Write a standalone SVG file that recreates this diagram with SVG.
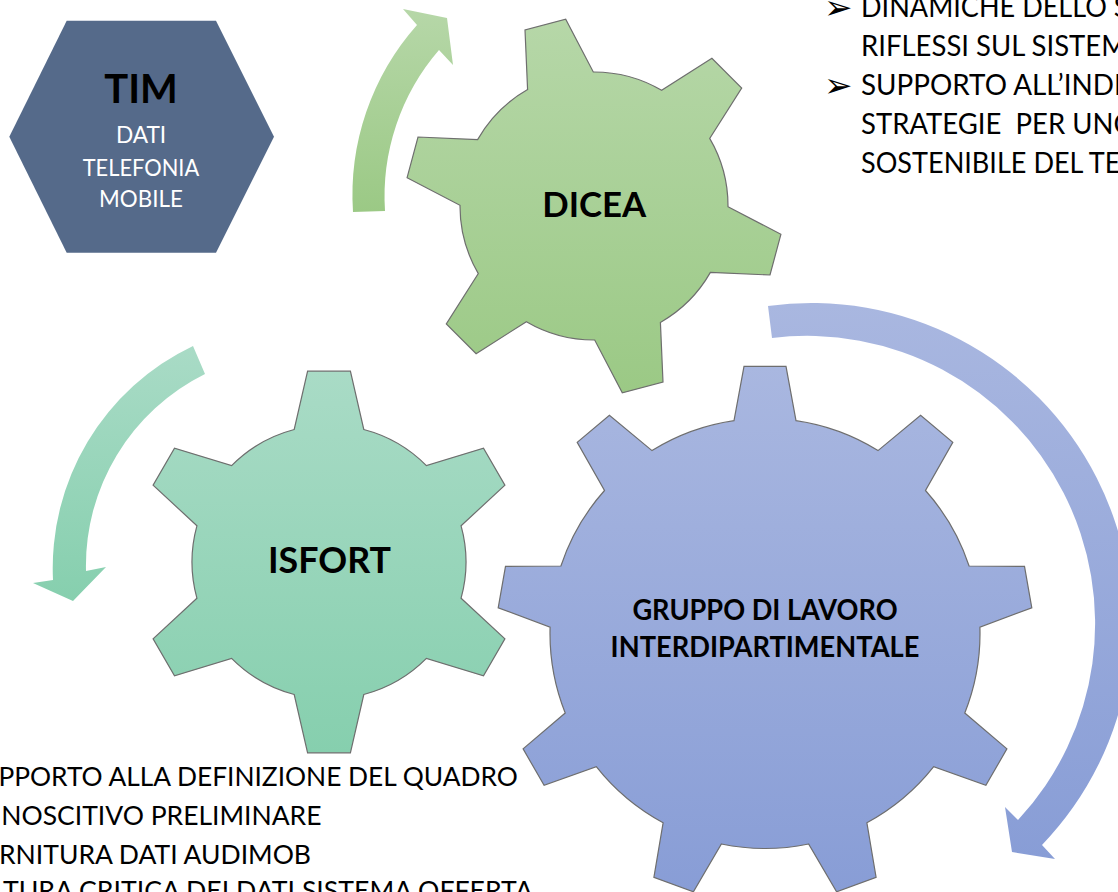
<svg xmlns="http://www.w3.org/2000/svg" width="1118" height="892" viewBox="0 0 1118 892">
<defs>
<linearGradient id="gGreen" x1="0" y1="0" x2="0" y2="1"><stop offset="0" stop-color="#b6d7a8"/><stop offset="1" stop-color="#9bc985"/></linearGradient>
<linearGradient id="gTeal" x1="0" y1="0" x2="0" y2="1"><stop offset="0" stop-color="#a9dbc6"/><stop offset="1" stop-color="#86cfae"/></linearGradient>
<linearGradient id="gBlue" x1="0" y1="0" x2="0" y2="1"><stop offset="0" stop-color="#a9b7e0"/><stop offset="1" stop-color="#889dd6"/></linearGradient>
<style>
.gear{stroke:#6e6e6e;stroke-width:1.2;stroke-linejoin:miter}
.t{font-family:Lato,"Liberation Sans",sans-serif;fill:#000}
.b{font-weight:bold}
.w{fill:#ffffff}
.bul{font-family:"DejaVu Sans",sans-serif;fill:#000}
</style>
</defs>
<rect width="1118" height="892" fill="#ffffff"/>

<g id="connectors">
<path id="arrow-dicea" fill="url(#gGreen)" d="M353,212 A256,256 0 0 1 417,25 L403,9 L447,18 L453,65 L439,50 A224,224 0 0 0 385,211 Z"/>
<path id="arrow-isfort" fill="url(#gTeal)" d="M193,346 A246,246 0 0 0 53,580 L33,583 L73,601 L106,567 L86,571 A214,214 0 0 1 205,374 Z"/>
<path id="arrow-gruppo" fill="url(#gBlue)" d="M768,306 A320,320 0 0 1 1042,845 L1055,859 L1012,852 L1005,807 L1018,820 A288,288 0 0 0 772,338 Z"/>
</g>

<g id="node-tim">
<polygon points="66.7,20.7 216,20.7 274,136.7 216,252.7 66.7,252.7 9.3,136.7" fill="#556a8a"/>
<text class="t b" x="104.2" y="103" font-size="40" textLength="73.6" lengthAdjust="spacingAndGlyphs">TIM</text>
<text class="t w" x="115.9" y="143" font-size="23" textLength="50.3" lengthAdjust="spacingAndGlyphs">DATI</text>
<text class="t w" x="82.7" y="175.5" font-size="23" textLength="116.5" lengthAdjust="spacingAndGlyphs">TELEFONIA</text>
<text class="t w" x="99.1" y="207" font-size="23" textLength="83.7" lengthAdjust="spacingAndGlyphs">MOBILE</text>
</g>

<g id="node-dicea">
<path class="gear" fill="url(#gGreen)" d="M728.0,206.7 L780.9,234.3 L770.0,275.0 L710.4,272.4 A134,134 0 0 1 660.4,322.4 L663.0,382.0 L622.3,392.9 L594.7,340.0 A134,134 0 0 1 526.4,321.7 L476.1,353.7 L446.3,323.9 L478.3,273.6 A134,134 0 0 1 460.0,205.3 L407.1,177.7 L418.0,137.0 L477.6,139.6 A134,134 0 0 1 527.6,89.6 L525.0,30.0 L565.7,19.1 L593.3,72.0 A134,134 0 0 1 661.6,90.3 L711.9,58.3 L741.7,88.1 L709.7,138.4 A134,134 0 0 1 728.0,206.7 Z"/>
<text class="t b" x="542.3" y="217" font-size="35" textLength="104" lengthAdjust="spacingAndGlyphs">DICEA</text>
</g>

<g id="node-isfort">
<path class="gear" fill="url(#gTeal)" d="M461.1,598.2 L504.9,638.9 L483.5,675.9 L426.4,658.4 A137,137 0 0 1 363.8,694.5 L350.4,752.8 L307.6,752.8 L294.2,694.5 A137,137 0 0 1 231.6,658.4 L174.5,675.9 L153.1,638.9 L196.9,598.2 A137,137 0 0 1 196.9,525.8 L153.1,485.1 L174.5,448.1 L231.6,465.6 A137,137 0 0 1 294.2,429.5 L307.6,371.2 L350.4,371.2 L363.8,429.5 A137,137 0 0 1 426.4,465.6 L483.5,448.1 L504.9,485.1 L461.1,525.8 A137,137 0 0 1 461.1,598.2 Z"/>
<text class="t b" x="268" y="573" font-size="36" textLength="123" lengthAdjust="spacingAndGlyphs">ISFORT</text>
</g>

<g id="node-gruppo">
<path class="gear" fill="url(#gBlue)" d="M734.0,420.7 L744.0,366.3 L786.0,366.3 L796.0,420.7 A215,215 0 0 1 878.0,450.6 L920.6,415.3 L952.8,442.4 L925.5,490.5 A215,215 0 0 1 969.1,566.0 L1024.5,566.4 L1031.8,607.8 L979.9,627.1 A215,215 0 0 1 964.8,713.0 L1006.9,748.9 L985.9,785.3 L933.7,766.7 A215,215 0 0 1 866.9,822.8 L876.1,877.4 L836.6,891.8 L808.6,844.0 A215,215 0 0 1 721.4,844.0 L693.4,891.8 L653.9,877.4 L663.1,822.8 A215,215 0 0 1 596.3,766.7 L544.1,785.3 L523.1,748.9 L565.2,713.0 A215,215 0 0 1 550.1,627.1 L498.2,607.8 L505.5,566.4 L560.9,566.0 A215,215 0 0 1 604.5,490.5 L577.2,442.4 L609.4,415.3 L652.0,450.6 A215,215 0 0 1 734.0,420.7 Z"/>
<text class="t b" x="632.4" y="620" font-size="28" textLength="265.2" lengthAdjust="spacingAndGlyphs">GRUPPO DI LAVORO</text>
<text class="t b" x="610.6" y="657" font-size="28" textLength="308.8" lengthAdjust="spacingAndGlyphs">INTERDIPARTIMENTALE</text>
</g>

<g id="text-dicea-notes">
<text class="bul" x="824" y="19" font-size="34">➢</text>
<text class="t" x="861" y="17" font-size="28.6" textLength="267.5" lengthAdjust="spacingAndGlyphs">DINAMICHE DELLO S</text>
<text class="t" x="861" y="56" font-size="28.6" textLength="265.8" lengthAdjust="spacingAndGlyphs">RIFLESSI SUL SISTEM</text>
<text class="bul" x="824" y="97" font-size="34">➢</text>
<text class="t" x="861" y="95" font-size="28.6" textLength="260.8" lengthAdjust="spacingAndGlyphs">SUPPORTO ALL’INDI</text>
<text class="t" x="861" y="134" font-size="28.6" textLength="270.8" lengthAdjust="spacingAndGlyphs" xml:space="preserve">STRATEGIE  PER UNC</text>
<text class="t" x="861" y="173" font-size="28.6" textLength="259.4" lengthAdjust="spacingAndGlyphs">SOSTENIBILE DEL TE</text>
</g>

<g id="text-isfort-notes">
<text class="t" x="-1.6" y="786" font-size="27.7" textLength="519.4" lengthAdjust="spacingAndGlyphs">PPORTO ALLA DEFINIZIONE DEL QUADRO</text>
<text class="t" x="1.3" y="825" font-size="27.7" textLength="320.2" lengthAdjust="spacingAndGlyphs">NOSCITIVO PRELIMINARE</text>
<text class="t" x="-1" y="864" font-size="27.7" textLength="312" lengthAdjust="spacingAndGlyphs">RNITURA DATI AUDIMOB</text>
<text class="t" x="3" y="900" font-size="27.7" textLength="530" lengthAdjust="spacingAndGlyphs">TURA CRITICA DEI DATI SISTEMA OFFERTA</text>
</g>
</svg>
